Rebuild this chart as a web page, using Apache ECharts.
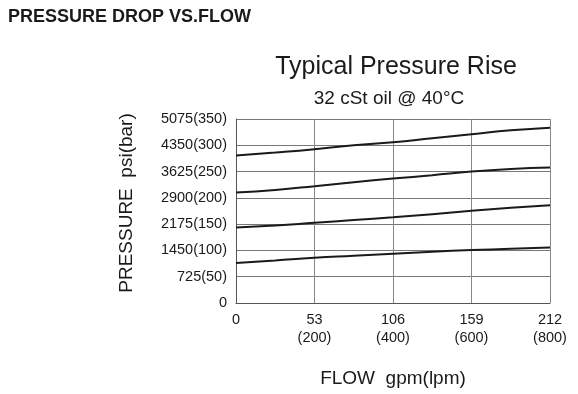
<!DOCTYPE html>
<html><head><meta charset="utf-8">
<script src="https://cdn.jsdelivr.net/npm/echarts@6/dist/echarts.min.js"></script>
<style>html,body{margin:0;padding:0;background:#fff}#c{width:578px;height:394px}</style>
</head><body><div id="c"></div>
<script>
const flow = [0, 26.5, 53, 79.5, 106, 132.5, 159, 185.5, 212];
const curve1 = [4065, 4148, 4241, 4351, 4434, 4544, 4654, 4764, 4836];
const curve2 = [3046, 3120, 3222, 3332, 3432, 3525, 3624, 3698, 3735];
const curve3 = [2082, 2137, 2211, 2286, 2363, 2451, 2542, 2625, 2698];
const curve4 = [1101, 1173, 1247, 1302, 1357, 1413, 1460, 1496, 1532];
const xTickLabels = {0: '0', 53: '53\n(200)', 106: '106\n(400)', 159: '159\n(600)', 212: '212\n(800)'};
const yTickLabels = {0: '0', 725: '725(50)', 1450: '1450(100)', 2175: '2175(150)', 2900: '2900(200)', 3625: '3625(250)', 4350: '4350(300)', 5075: '5075(350)'};
const yAxisName = 'PRESSURE  psi(bar)';
const xAxisName = 'FLOW  gpm(lpm)';

const font = 'Liberation Sans, Arial, sans-serif';
const chart = echarts.init(document.getElementById('c'), null, {renderer: 'canvas'});
const mk = (arr) => ({
  type: 'line', smooth: true, showSymbol: false, symbol: 'none',
  data: flow.map((x, i) => [x, arr[i]]),
  lineStyle: {color: '#1a1a1a', width: 2}, silent: true
});
chart.setOption({
  animation: false,
  backgroundColor: '#fff',
  title: [
    {text: 'PRESSURE DROP VS.FLOW', left: 3, top: 3,
     textStyle: {fontFamily: font, fontWeight: 'bold', fontSize: 18, color: '#1a1a1a'}},
    {text: 'Typical Pressure Rise', left: 391, top: 50, textAlign: 'center',
     textStyle: {fontFamily: font, fontWeight: 'normal', fontSize: 25, color: '#1a1a1a'}},
    {text: '32 cSt oil @ 40°C', left: 384, top: 84, textAlign: 'center',
     textStyle: {fontFamily: font, fontWeight: 'normal', fontSize: 19, color: '#1a1a1a'}}
  ],
  graphic: [{
    type: 'text', x: 127, y: 203, rotation: Math.PI / 2,
    style: {text: yAxisName, fontFamily: font, fontSize: 19, fill: '#1a1a1a',
            align: 'center', verticalAlign: 'middle'}
  }],
  grid: {left: 236, right: 28, top: 119, bottom: 91, containLabel: false},
  xAxis: {
    type: 'value', min: 0, max: 212, interval: 53,
    name: xAxisName, nameLocation: 'middle', nameGap: 66,
    nameTextStyle: {fontFamily: font, fontSize: 19, color: '#1a1a1a'},
    axisLine: {lineStyle: {color: '#555', width: 1}},
    axisTick: {show: false},
    axisLabel: {fontFamily: font, fontSize: 14.5, color: '#1a1a1a', margin: 8, lineHeight: 18,
      formatter: v => xTickLabels[v] !== undefined ? xTickLabels[v] : ''},
    splitLine: {show: true, lineStyle: {color: '#888', width: 1}}
  },
  yAxis: {
    type: 'value', min: 0, max: 5075, interval: 725,
    axisLine: {show: true, lineStyle: {color: '#555', width: 1}},
    axisTick: {show: false},
    axisLabel: {fontFamily: font, fontSize: 14.5, color: '#1a1a1a', margin: 9,
      formatter: v => yTickLabels[v] !== undefined ? yTickLabels[v] : ''},
    splitLine: {show: true, lineStyle: {color: '#777', width: 1}}
  },
  series: [mk(curve1), mk(curve2), mk(curve3), mk(curve4)]
});
</script></body></html>
